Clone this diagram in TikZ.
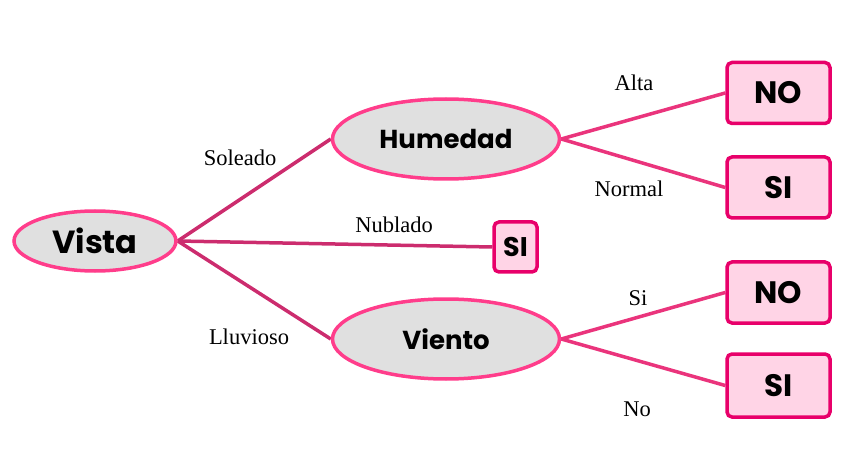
\documentclass[tikz,border=0pt]{standalone}
\usepackage{fontspec}
\setmainfont{Liberation Serif}
\newfontfamily\nf{Poppins}
\usetikzlibrary{shapes.geometric,backgrounds}
\definecolor{ellfill}{HTML}{E0E0E0}
\definecolor{elldraw}{HTML}{FF3D8B}
\definecolor{boxfill}{HTML}{FFD4E6}
\definecolor{boxdraw}{HTML}{E8006A}
\definecolor{edgeL}{HTML}{CC2C6E}
\definecolor{edgeR}{HTML}{EA347C}
\begin{document}
\begin{tikzpicture}[x=1pt,y=-1pt,
  ellnode/.style={ellipse,draw=elldraw,fill=ellfill,line width=3.5pt,inner sep=0pt},
  leafbox/.style={rectangle,rounded corners=5pt,draw=boxdraw,fill=boxfill,line width=3.5pt,inner sep=0pt},
  edgel/.style={draw=edgeL,line width=3.5pt},
  edger/.style={draw=edgeR,line width=3.5pt},
  lbl/.style={font=\fontsize{22.5}{24}\selectfont}]
\useasboundingbox (0,0) rectangle (865,449);
\node[ellnode,minimum width=162pt,minimum height=60pt] (vista) at (95,241) {\nf\bfseries\fontsize{32}{36}\selectfont Vista};
\node[ellnode,minimum width=227pt,minimum height=80pt] (hum) at (446,139) {\nf\bfseries\fontsize{26}{30}\selectfont Humedad};
\node[ellnode,minimum width=227pt,minimum height=80pt] (vie) at (446,339) {\nf\bfseries\fontsize{26}{30}\selectfont Viento};
\node[leafbox,minimum width=43pt,minimum height=50pt] (si0) at (515.5,247) {\nf\bfseries\fontsize{27}{30}\selectfont SI};
\node[leafbox,minimum width=103pt,minimum height=61pt] (no1) at (778.5,93) {\nf\bfseries\fontsize{31}{34}\selectfont NO};
\node[leafbox,minimum width=103pt,minimum height=61pt] (si1) at (778.5,187.5) {\nf\bfseries\fontsize{31}{34}\selectfont SI};
\node[leafbox,minimum width=103pt,minimum height=61pt] (no2) at (778.5,292.5) {\nf\bfseries\fontsize{31}{34}\selectfont NO};
\node[leafbox,minimum width=103pt,minimum height=63pt] (si2) at (778.5,385.5) {\nf\bfseries\fontsize{31}{34}\selectfont SI};
\begin{scope}[on background layer]
\path[edgel] (vista.east) -- (hum.west);
\path[edgel] (vista.east) -- (si0.west);
\path[edgel] (vista.east) -- (vie.west);
\path[edger] (hum.east) -- (no1.west);
\path[edger] (hum.east) -- (si1.west);
\path[edger] (vie.east) -- (no2.west);
\path[edger] (vie.east) -- (si2.west);
\end{scope}
\node[lbl] (l1) at (240,158) {Soleado};
\node[lbl] (l2) at (394,225) {Nublado};
\node[lbl] (l3) at (249,337) {Lluvioso};
\node[lbl] (l4) at (634,83) {Alta};
\node[lbl] (l5) at (629,189) {Normal};
\node[lbl] (l6) at (638,298) {Si};
\node[lbl] (l7) at (637,409) {No};
\end{tikzpicture}
\end{document}
